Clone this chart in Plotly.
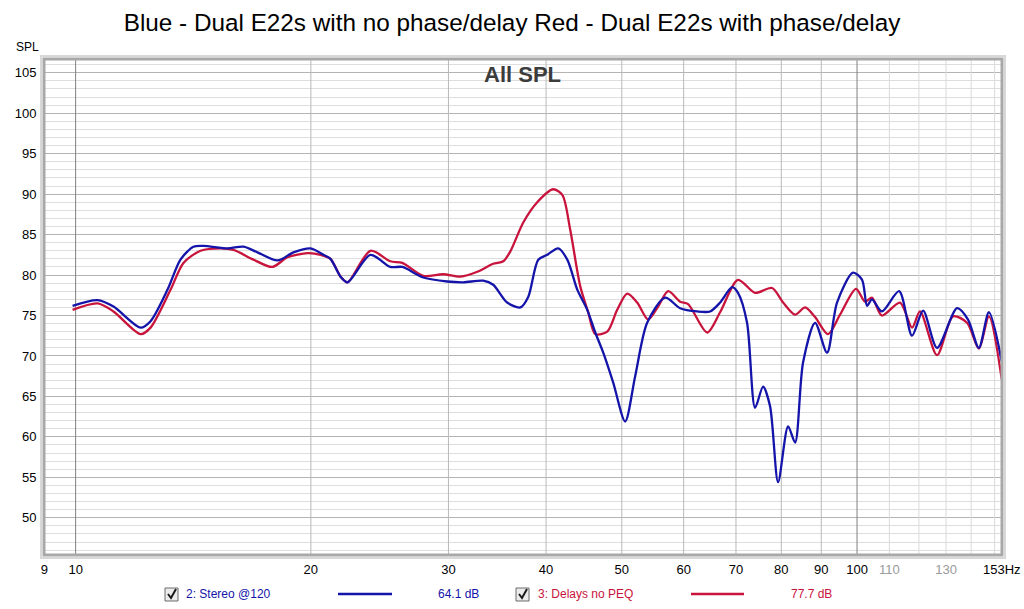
import math
import plotly.graph_objects as go

# ---------------- data ----------------
blue_freq = [9.91, 10.67, 11.18, 12.11, 12.47, 13.11, 13.62, 14.15, 14.58, 15.65, 16.40, 17.09,
             18.13, 19.00, 19.98, 20.76, 21.19, 21.83, 22.28, 23.84, 25.28, 26.19, 27.86, 29.90,
             31.35, 33.24, 34.23, 35.67, 37.07, 37.95, 39.09, 40.14, 41.46, 42.58, 43.85, 45.16,
             46.24, 47.34, 48.75, 50.50, 52.01, 53.88, 56.81, 59.38, 62.43, 64.86, 66.8, 69.2,
             70.42, 72.32, 74.05, 75.82, 77.39, 79.25, 81.62, 83.32, 85.30, 88.38, 91.55, 94.28,
             98.83, 101.5, 103.0, 104.5, 107.6, 113.2, 117.6, 121.5, 126.6, 134.3, 138.7, 143.2,
             147.5, 153.2]
blue_spl = [76.2, 76.9, 76.1, 73.5, 74.3, 78.2, 81.9, 83.5, 83.6, 83.3, 83.5, 82.8,
            81.8, 82.8, 83.3, 82.5, 82.0, 79.8, 79.1, 82.5, 81.0, 81.0, 79.7, 79.2,
            79.1, 79.3, 78.8, 76.6, 76.0, 77.3, 81.9, 82.5, 83.3, 81.9, 78.2, 75.7,
            72.9, 70.4, 66.7, 61.9, 67.5, 74.1, 77.2, 75.9, 75.5, 75.5, 76.6, 78.5,
            77.8, 74.1, 63.6, 66.2, 63.8, 54.4, 61.3, 59.3, 69.2, 74.1, 70.4, 76.6,
            80.3, 79.4, 76.2, 77.0, 75.5, 78.0, 72.5, 75.6, 71.0, 75.9, 74.5, 71.0,
            75.4, 69.3]

red_freq = [9.91, 10.67, 11.18, 12.11, 12.47, 13.23, 13.74, 14.45, 15.32, 15.92, 16.89, 17.86,
            18.67, 19.81, 20.58, 21.19, 21.83, 22.28, 23.84, 25.28, 26.19, 27.86, 29.55, 31.07,
            32.66, 34.23, 35.26, 35.99, 37.40, 38.97, 40.85, 41.96, 42.95, 44.24, 45.29, 46.24,
            47.90, 49.33, 50.80, 52.32, 54.04, 55.65, 57.32, 59.38, 60.79, 64.3, 66.8, 70.42,
            74.05, 77.85, 80.43, 83.32, 85.81, 88.38, 91.82, 95.12, 99.7, 102.4, 104.5, 107.6,
            113.5, 117.6, 120.4, 126.6, 132.7, 138.3, 143.2, 147.5, 153.2]
red_spl = [75.7, 76.5, 75.5, 72.7, 73.5, 78.2, 81.5, 83.0, 83.3, 83.1, 81.9, 81.0,
           82.2, 82.7, 82.5, 82.0, 79.8, 79.1, 83.0, 81.7, 81.5, 79.9, 80.1, 79.8,
           80.4, 81.4, 81.7, 82.9, 86.5, 89.0, 90.6, 89.9, 85.6, 78.6, 75.4, 72.7,
           73.0, 75.7, 77.7, 76.6, 74.5, 76.1, 78.0, 76.7, 76.4, 72.9, 75.4, 79.4,
           77.8, 78.4, 76.6, 75.1, 76.0, 74.8, 72.7, 75.1, 78.3, 76.7, 77.2, 75.0,
           76.6, 73.5, 75.5, 70.1, 74.9, 74.1, 70.9, 74.9, 67.1]

x_tick_vals = [9.12, 10, 20, 30, 40, 50, 60, 70, 80, 90, 100, 110, 130, 153.2]
x_tick_text = ["9", "10", "20", "30", "40", "50", "60", "70", "80", "90", "100",
               "<span style='color:#9a9a9a'>110</span>", "<span style='color:#9a9a9a'>130</span>",
               "153Hz"]
grid_dark = [10, 100]
grid_mid = [20, 30, 40, 50, 60, 70, 80, 90]
grid_light = [110, 120, 130, 140, 150]
y_tick_vals = [50, 55, 60, 65, 70, 75, 80, 85, 90, 95, 100, 105]

x_min, x_max = 9.11, 153.3
y_min, y_max = 45.4, 106.7

title_text = "Blue - Dual E22s with no phase/delay Red - Dual E22s with phase/delay"
legend_names = ["2: Stereo @120", "3: Delays no PEQ"]
legend_values = ["64.1 dB", "77.7 dB"]

BLUE = "#1414AA"
RED = "#C8143C"
FONT = "Liberation Sans, Arial, sans-serif"

# ---------------- layout geometry ----------------
W, H = 1024, 609
L, R, T, B = 44, 1002, 59, 555


def px(x):
    return (x - L) / (R - L)


def py(y):
    return (B - y) / (B - T)


fig = go.Figure()


def vgrid(freqs, color):
    xs, ys = [], []
    for f in freqs:
        xs += [f, f, None]
        ys += [y_min, y_max, None]
    fig.add_trace(go.Scatter(x=xs, y=ys, mode="lines", line=dict(color=color, width=1),
                             hoverinfo="skip", showlegend=False))


vgrid(grid_light, "#dadada")
vgrid(grid_mid, "#b8b8b8")
vgrid(grid_dark, "#808080")

fig.add_trace(go.Scatter(x=red_freq, y=red_spl, mode="lines",
                         line=dict(color=RED, width=2.3, shape="spline", smoothing=0.8),
                         name=legend_names[1], showlegend=False))
fig.add_trace(go.Scatter(x=blue_freq, y=blue_spl, mode="lines",
                         line=dict(color=BLUE, width=2.3, shape="spline", smoothing=0.8),
                         name=legend_names[0], showlegend=False))

shapes = []
annotations = []

# frame
shapes.append(dict(type="rect", xref="paper", yref="paper", x0=0, x1=1, y0=0, y1=1,
                   line=dict(color="#a8a8a8", width=3), layer="above"))
shapes.append(dict(type="rect", xref="paper", yref="paper", x0=px(L - 3), x1=px(R + 3),
                   y0=py(B + 3), y1=py(T - 3),
                   line=dict(color="#d8d8d8", width=2), layer="above"))

annotations.append(dict(text="<b>All SPL</b>", x=px(522), y=py(75), xref="paper", yref="paper",
                        showarrow=False, font=dict(family=FONT, size=22, color="#3c3c3c"),
                        xanchor="center", yanchor="middle"))
annotations.append(dict(text="SPL", x=px(27), y=py(47), xref="paper", yref="paper",
                        showarrow=False, font=dict(family=FONT, size=12, color="#000000"),
                        xanchor="center", yanchor="middle"))


def legend_item(cb_x, text_x, line_x0, line_x1, val_x, name, val, color):
    ly = 594
    shapes.append(dict(type="rect", xref="paper", yref="paper",
                       x0=px(cb_x), x1=px(cb_x + 13), y0=py(ly + 7), y1=py(ly - 6),
                       line=dict(color="#6a6a6a", width=1), fillcolor="#ececec", layer="above"))
    path = "M %f %f L %f %f L %f %f" % (px(cb_x + 3), py(ly), px(cb_x + 6), py(ly + 4),
                                        px(cb_x + 11), py(ly - 5))
    shapes.append(dict(type="path", xref="paper", yref="paper", path=path,
                       line=dict(color="#1a1a1a", width=2), layer="above"))
    annotations.append(dict(text=name, x=px(text_x), y=py(ly), xref="paper", yref="paper",
                            showarrow=False, xanchor="left", yanchor="middle",
                            font=dict(family=FONT, size=12, color=color)))
    shapes.append(dict(type="line", xref="paper", yref="paper", x0=px(line_x0), x1=px(line_x1),
                       y0=py(ly), y1=py(ly), line=dict(color=color, width=2.3)))
    annotations.append(dict(text=val, x=px(val_x), y=py(ly), xref="paper", yref="paper",
                            showarrow=False, xanchor="left", yanchor="middle",
                            font=dict(family=FONT, size=12, color=color)))


legend_item(165, 184, 338, 392, 436, legend_names[0], legend_values[0], BLUE)
legend_item(516, 536, 691, 744, 789, legend_names[1], legend_values[1], RED)

fig.update_layout(
    width=W, height=H,
    margin=dict(l=L, r=W - R, t=T, b=H - B, autoexpand=False),
    paper_bgcolor="white", plot_bgcolor="white",
    title=dict(text=title_text, x=0.5, xref="container", xanchor="center",
               y=1 - 22 / H, yref="container", yanchor="middle",
               font=dict(family=FONT, size=24.3, color="#000000")),
    showlegend=False,
    shapes=shapes,
    annotations=annotations,
    xaxis=dict(type="log", range=[math.log10(x_min), math.log10(x_max)],
               automargin=False,
               tickmode="array", tickvals=x_tick_vals, ticktext=x_tick_text,
               showgrid=False, zeroline=False, showline=False,
               ticks="outside", ticklen=2, tickcolor="rgba(0,0,0,0)",
               tickfont=dict(family=FONT, size=13, color="#000000")),
    yaxis=dict(range=[y_min, y_max], tickmode="array", tickvals=y_tick_vals,
               automargin=False,
               showgrid=True, gridcolor="#b4b4b4", gridwidth=1,
               minor=dict(dtick=1, showgrid=True, gridcolor="#dedede", gridwidth=1),
               zeroline=False, showline=False,
               ticks="outside", ticklen=4, tickcolor="rgba(0,0,0,0)",
               tickfont=dict(family=FONT, size=13, color="#000000")),
)

fig.write_html("out.html", config={"displayModeBar": False},
               post_script="document.body.style.margin='0';document.body.style.overflow='hidden';")
